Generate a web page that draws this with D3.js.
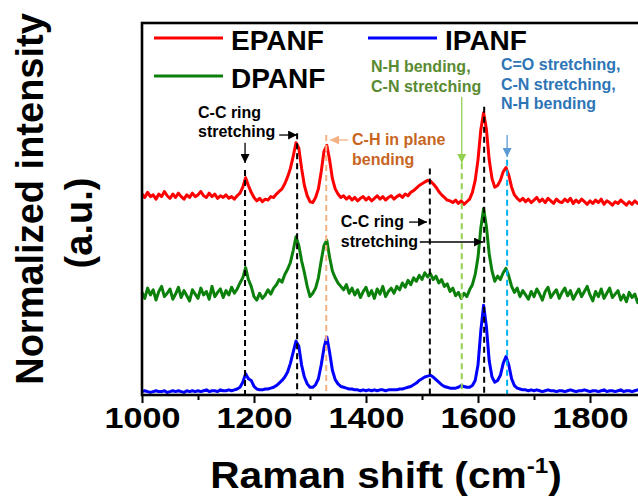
<!DOCTYPE html>
<html>
<head>
<meta charset="utf-8">
<script src="https://cdn.jsdelivr.net/npm/d3@7"></script>
<style>
  body { margin: 0; background: #fff; }
  svg { display: block; font-family: "Liberation Sans", Arial, sans-serif; font-weight: bold; }
</style>
</head>
<body>
<svg width="638" height="499"></svg>
<script>
// raman shift sampling grid (cm-1), one value every 5 cm-1
const shift = d3.range(1000, 1891, 5);

// normalized intensities, already stacked with their offsets
const epanf = [
  2.30,2.26,2.32,2.27,2.29,2.24,2.30,2.27,2.33,2.28,
  2.25,2.30,2.26,2.31,2.27,2.24,2.29,2.26,2.31,2.27,
  2.29,2.33,2.28,2.26,2.31,2.27,2.30,2.25,2.28,2.26,
  2.29,2.25,2.27,2.24,2.28,2.31,2.38,2.49,2.40,2.32,
  2.26,2.22,2.25,2.21,2.24,2.23,2.27,2.26,2.30,2.33,
  2.36,2.42,2.50,2.60,2.74,2.90,2.84,2.60,2.40,2.28,
  2.21,2.20,2.26,2.36,2.56,2.80,2.87,2.70,2.48,2.36,
  2.30,2.26,2.28,2.24,2.27,2.23,2.26,2.22,2.25,2.27,
  2.23,2.26,2.22,2.25,2.28,2.24,2.27,2.23,2.26,2.28,
  2.24,2.27,2.29,2.26,2.30,2.28,2.32,2.34,2.37,2.40,
  2.42,2.44,2.46,2.45,2.42,2.38,2.33,2.29,2.26,2.23,
  2.22,2.20,2.23,2.19,2.22,2.18,2.21,2.24,2.32,2.46,
  2.70,3.05,3.25,3.06,2.70,2.48,2.38,2.40,2.46,2.56,
  2.61,2.52,2.38,2.29,2.25,2.22,2.25,2.21,2.24,2.20,
  2.23,2.26,2.21,2.24,2.20,2.25,2.22,2.19,2.24,2.21,
  2.20,2.24,2.21,2.25,2.19,2.23,2.20,2.24,2.21,2.18,
  2.22,2.19,2.23,2.20,2.24,2.18,2.22,2.20,2.17,2.21,
  2.19,2.23,2.20,2.17,2.21,2.18,2.22,2.19,2.20
];
const dpanf = [
  1.15,1.08,1.20,1.12,1.18,1.06,1.16,1.22,1.10,1.14,
  1.19,1.07,1.13,1.21,1.09,1.17,1.11,1.05,1.18,1.13,
  1.08,1.20,1.12,1.16,1.07,1.22,1.10,1.15,1.19,1.09,
  1.17,1.12,1.21,1.14,1.19,1.26,1.32,1.44,1.30,1.22,
  1.10,1.06,1.14,1.08,1.12,1.18,1.13,1.20,1.24,1.30,
  1.27,1.36,1.42,1.50,1.64,1.80,1.70,1.52,1.38,1.22,
  1.10,1.14,1.20,1.32,1.52,1.70,1.76,1.56,1.40,1.32,
  1.26,1.22,1.18,1.24,1.14,1.20,1.12,1.18,1.09,1.16,
  1.21,1.11,1.17,1.08,1.19,1.13,1.22,1.10,1.16,1.20,
  1.14,1.22,1.18,1.26,1.21,1.29,1.24,1.32,1.28,1.35,
  1.30,1.38,1.33,1.37,1.30,1.34,1.26,1.30,1.22,1.25,
  1.16,1.20,1.11,1.15,1.08,1.14,1.10,1.18,1.24,1.36,
  1.56,1.90,2.13,1.92,1.60,1.40,1.28,1.34,1.30,1.38,
  1.43,1.34,1.22,1.15,1.20,1.10,1.17,1.12,1.07,1.16,
  1.10,1.19,1.13,1.06,1.16,1.21,1.09,1.14,1.18,1.08,
  1.15,1.20,1.11,1.17,1.07,1.13,1.19,1.10,1.16,1.22,
  1.12,1.05,1.16,1.10,1.19,1.08,1.14,1.20,1.09,1.13,
  1.17,1.06,1.12,1.04,1.15,1.09,1.13,1.03,1.11
];
const ipanf = [
  -0.01,0.00,-0.01,-0.02,-0.01,0.00,-0.01,-0.01,0.00,-0.02,
  -0.01,0.00,-0.01,0.00,-0.01,-0.02,0.00,-0.01,0.00,-0.01,
  0.00,-0.01,0.00,0.01,-0.01,0.00,0.00,-0.01,0.01,0.00,
  0.00,0.01,0.00,0.01,0.02,0.04,0.10,0.20,0.14,0.12,
  0.05,0.02,0.01,0.01,0.02,0.02,0.03,0.04,0.06,0.09,
  0.12,0.16,0.22,0.32,0.45,0.58,0.52,0.30,0.16,0.08,
  0.04,0.04,0.07,0.14,0.30,0.50,0.63,0.45,0.24,0.13,
  0.08,0.05,0.04,0.03,0.02,0.02,0.01,0.01,0.00,0.01,
  0.00,0.01,0.00,0.01,0.00,0.01,0.01,0.00,0.01,0.01,
  0.01,0.01,0.02,0.02,0.03,0.04,0.05,0.07,0.09,0.12,
  0.14,0.16,0.17,0.18,0.16,0.13,0.10,0.07,0.05,0.04,
  0.03,0.03,0.03,0.04,0.06,0.05,0.04,0.04,0.06,0.12,
  0.30,0.70,1.00,0.75,0.35,0.16,0.10,0.12,0.18,0.32,
  0.40,0.30,0.14,0.06,0.03,0.02,0.01,0.01,0.00,0.01,
  0.00,0.01,0.00,-0.01,0.00,0.01,0.00,0.00,-0.01,0.00,
  0.00,-0.01,0.00,0.01,0.00,-0.01,0.00,0.00,0.01,0.00,
  -0.01,0.00,0.00,-0.01,0.00,0.01,-0.01,0.00,0.00,-0.01,
  0.00,0.01,-0.01,0.00,0.00,-0.01,0.00,0.01,0.00
];

const seriesNames = ["EPANF", "DPANF", "IPANF"];
const seriesColors = ["#ff0000", "#0b800b", "#0000ff"];

// the axis runs to 2000 but only up to 1800 fits in the picture
const xTicks = [1000, 1200, 1400, 1600, 1800];
const xMinor = [1100, 1300, 1500, 1700];

// dashed guide lines at the band positions
const guidePos = [1184, 1277, 1329, 1514, 1571, 1611, 1652];
const guideTop = [2.58, 3.01, 2.99, 2.60, 2.66, 3.32, 2.70];
const guideColor = ["#000", "#000", "#f4b183", "#000", "#92d050", "#000", "#00b0f0"];

// band labels
const notes = [
  { lines: ["C-C ring", "stretching"], x: 1100, y: 3.19, color: "#000" },
  { lines: ["C-H in plane", "bending"], x: 1375, y: 2.873, color: "#c8651f" },
  { lines: ["N-H bending,", "C-N stretching"], x: 1409, y: 3.727, color: "#5a8a32" },
  { lines: ["C=O stretching,", "C-N stretching,", "N-H bending"], x: 1641, y: 3.75, color: "#2e75b6" },
  { lines: ["C-C ring", "stretching"], x: 1355, y: 1.914, color: "#000" }
];
const arrows = [
  { x1: 1184, y1: 2.90, x2: 1184, y2: 2.663, color: "#000" },
  { x1: 1245, y1: 2.99, x2: 1277, y2: 2.99, color: "#000" },
  { x1: 1368, y1: 2.932, x2: 1336, y2: 2.932, color: "#f4b183" },
  { x1: 1571, y1: 3.435, x2: 1571, y2: 2.663, color: "#92d050" },
  { x1: 1652, y1: 2.99, x2: 1652, y2: 2.733, color: "#5b9bd5" },
  { x1: 1477, y1: 1.972, x2: 1509, y2: 1.972, color: "#000" },
  { x1: 1496, y1: 1.739, x2: 1609, y2: 1.739, color: "#000" }
];

const svg = d3.select("svg");

const x = d3.scaleLinear().domain([1000, 2000]).range([142, 702]);
const y = d3.scaleLinear().domain([-0.05, 4.3]).range([395, 23]);

// arrow heads, one per colour
const defs = svg.append("defs");
const arrowColors = Array.from(new Set(arrows.map(d => d.color)));
arrowColors.forEach((c, i) => {
  defs.append("marker")
    .attr("id", "head" + i)
    .attr("viewBox", "0 0 10 10")
    .attr("refX", 10).attr("refY", 5)
    .attr("markerUnits", "userSpaceOnUse")
    .attr("markerWidth", 9).attr("markerHeight", 9)
    .attr("orient", "auto")
    .append("path")
    .attr("d", "M0,0 L10,5 L0,10 Z")
    .attr("fill", c);
});

// spectra
const line = d3.line()
  .x((d, i) => x(shift[i]))
  .y(d => y(d));

[epanf, dpanf, ipanf].forEach((s, i) => {
  svg.append("path")
    .datum(s)
    .attr("d", line)
    .attr("fill", "none")
    .attr("stroke", seriesColors[i])
    .attr("stroke-width", 3)
    .attr("stroke-linejoin", "round");
});

// dashed guides
svg.selectAll(".guide")
  .data(guidePos)
  .enter()
  .append("line")
  .attr("class", "guide")
  .attr("x1", d => x(d))
  .attr("x2", d => x(d))
  .attr("y1", (d, i) => y(guideTop[i]))
  .attr("y2", y.range()[0])
  .attr("stroke", (d, i) => guideColor[i])
  .attr("stroke-width", 2)
  .attr("stroke-dasharray", "6,4");

// arrows
svg.selectAll(".arrow")
  .data(arrows)
  .enter()
  .append("line")
  .attr("class", "arrow")
  .attr("x1", d => x(d.x1))
  .attr("y1", d => y(d.y1))
  .attr("x2", d => x(d.x2))
  .attr("y2", d => y(d.y2))
  .attr("stroke", d => d.color)
  .attr("stroke-width", 1.3)
  .attr("marker-end", d => "url(#head" + arrowColors.indexOf(d.color) + ")");

// band labels
notes.forEach(n => {
  const t = svg.append("text")
    .attr("x", x(n.x))
    .attr("y", y(n.y))
    .attr("font-size", 16)
    .attr("fill", n.color);
  n.lines.forEach((l, i) => {
    t.append("tspan")
      .attr("x", x(n.x))
      .attr("dy", i === 0 ? 0 : 19.5)
      .text(l);
  });
});

// frame
svg.append("rect")
  .attr("x", x(1000))
  .attr("y", y.range()[1])
  .attr("width", x(2000) - x(1000))
  .attr("height", y.range()[0] - y.range()[1])
  .attr("fill", "none")
  .attr("stroke", "#000")
  .attr("stroke-width", 2.6);

// x axis
const xAxis = d3.axisBottom(x).tickValues(xTicks).tickSize(8).tickFormat(d3.format("d"));
const gx = svg.append("g")
  .attr("transform", "translate(0," + y.range()[0] + ")")
  .call(xAxis);
gx.select(".domain").remove();
gx.selectAll(".tick line").attr("stroke", "#000").attr("stroke-width", 2);
gx.selectAll(".tick text")
  .attr("y", 33)
  .attr("dy", 0)
  .attr("fill", "#000")
  .attr("font-size", 30)
  .attr("font-family", "Liberation Sans, Arial, sans-serif")
  .attr("font-weight", "bold")
  .attr("textLength", 76)
  .attr("lengthAdjust", "spacingAndGlyphs");

const gm = svg.append("g")
  .attr("transform", "translate(0," + y.range()[0] + ")")
  .call(d3.axisBottom(x).tickValues(xMinor).tickSize(5).tickFormat(""));
gm.select(".domain").remove();
gm.selectAll(".tick line").attr("stroke", "#000").attr("stroke-width", 2);

// axis titles
const xt = svg.append("g")
  .attr("transform", "translate(386,488) scale(1.1,1)")
  .append("text")
  .attr("text-anchor", "middle")
  .attr("font-size", 37);
xt.append("tspan").text("Raman shift (cm");
xt.append("tspan").attr("font-size", 22).attr("dy", -15).text("-1");
xt.append("tspan").attr("dy", 15).text(")");

svg.append("text")
  .attr("transform", "translate(43,199) rotate(-90)")
  .attr("text-anchor", "middle")
  .attr("font-size", 38)
  .text("Normalized intensity");
svg.append("text")
  .attr("transform", "translate(92,223) rotate(-90)")
  .attr("text-anchor", "middle")
  .attr("font-size", 38)
  .text("(a.u.)");

// legend
const legendPos = [[154, 38], [154, 76], [368, 38]];
seriesNames.forEach((name, i) => {
  const [lx, ly] = legendPos[i];
  svg.append("line")
    .attr("x1", lx).attr("x2", lx + 69)
    .attr("y1", ly).attr("y2", ly)
    .attr("stroke", seriesColors[i])
    .attr("stroke-width", 3);
  svg.append("text")
    .attr("x", lx + 77)
    .attr("y", ly + 12)
    .attr("font-size", 28)
    .text(name);
});
</script>
</body>
</html>
